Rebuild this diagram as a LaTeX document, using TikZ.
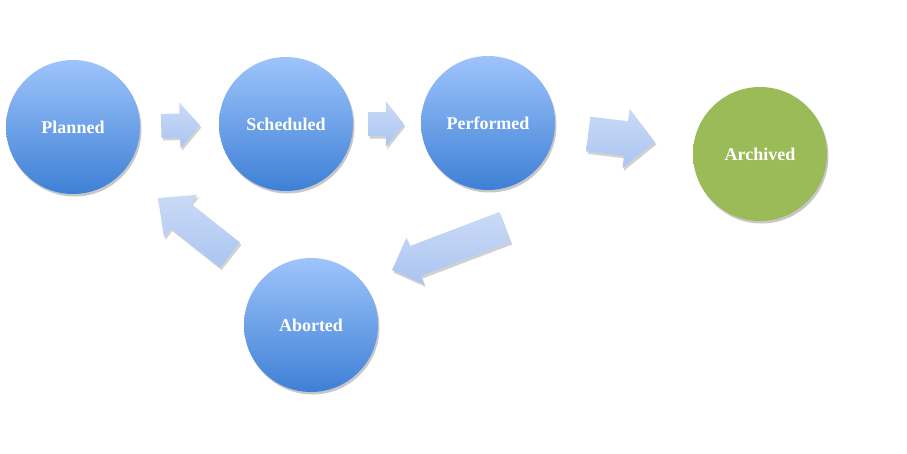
\documentclass[tikz,border=0pt]{standalone}
\usepackage{fontspec}
\setmainfont{Liberation Serif}
\usetikzlibrary{calc,shadows}
\definecolor{statetop}{RGB}{158, 196, 251}
\definecolor{statebottom}{RGB}{62, 128, 214}
\definecolor{archgreen}{RGB}{155, 187, 89}
\definecolor{arrowlight}{RGB}{202, 218, 246}
\definecolor{arrowdark}{RGB}{170, 197, 241}

\tikzset{
    state/.style={circle, minimum size=134pt, inner sep=0pt, text=white,
        font=\fontsize{18}{20}\selectfont\bfseries,
        top color=statetop, bottom color=statebottom,
        drop shadow={shadow xshift=1.5pt, shadow yshift=-2.5pt, opacity=0.22, fill=black}},
    blockarrow/.style={top color=arrowlight, bottom color=arrowdark,
        drop shadow={shadow xshift=1.5pt, shadow yshift=-2.5pt, opacity=0.18, fill=black}}
}

% tail, tip, half shaft, half head, head length
\newcommand{\blockarr}[5]{%
    \coordinate (hb) at ($(#2)!#5!(#1)$);
    \path[blockarrow] ($(#1)!#3!90:(#2)$) -- ($(hb)!#3!90:(#2)$) -- ($(hb)!#4!90:(#2)$)
        -- (#2) -- ($(hb)!#4!-90:(#2)$) -- ($(hb)!#3!-90:(#2)$) -- ($(#1)!#3!-90:(#2)$) -- cycle;
}

\begin{document}
\begin{tikzpicture}[x=1pt,y=-1pt]
    \useasboundingbox (0,0) rectangle (907,453);

    \node[state] (planned) at (73,127) {Planned};
    \node[state] (scheduled) at (286,124) {Scheduled};
    \node[state] (performed) at (488,123) {Performed};
    \node[state, top color=archgreen, bottom color=archgreen] (archived) at (760,154) {Archived};
    \node[state] (aborted) at (311,325) {Aborted};

    % arrow ends
    \coordinate (ps-tail) at ($(planned.east)+(21,-1)$);
    \coordinate (ps-tip) at ($(scheduled.west)+(-19,1)$);
    \coordinate (sp-tail) at ($(scheduled.east)+(15,0)$);
    \coordinate (sp-tip) at ($(performed.west)+(-17,1)$);
    \coordinate (pa-tail) at ($(performed.east)+(33,11)$);
    \coordinate (pa-tip) at ($(archived.west)+(-38,-12)$);
    \coordinate (pb-tail) at ($(performed)+(17,104)$);
    \coordinate (pb-tip) at ($(aborted)+(81,-55)$);
    \coordinate (bp-tail) at ($(aborted)+(-81,-70)$);
    \coordinate (bp-tip) at ($(planned)+(85,71)$);

    \blockarr{ps-tail}{ps-tip}{12pt}{23pt}{20pt}
    \blockarr{sp-tail}{sp-tip}{12pt}{23pt}{18pt}
    \blockarr{pa-tail}{pa-tip}{17.5pt}{30pt}{29pt}
    \blockarr{pb-tail}{pb-tip}{16pt}{25pt}{25pt}
    \blockarr{bp-tail}{bp-tip}{16pt}{27pt}{29pt}
\end{tikzpicture}
\end{document}
